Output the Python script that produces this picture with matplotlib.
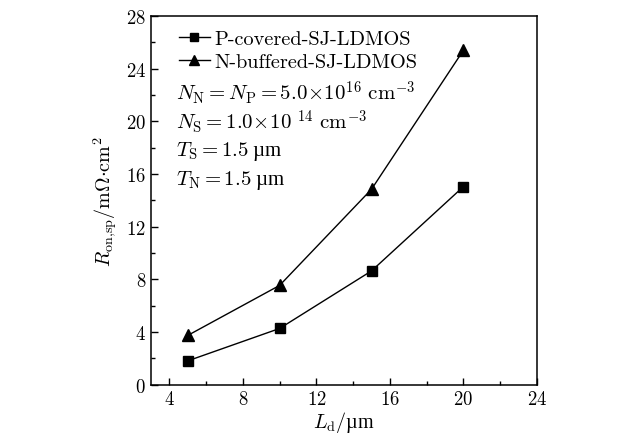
import matplotlib
matplotlib.use('Agg')
import matplotlib.pyplot as plt
from matplotlib.ticker import MultipleLocator

plt.rcParams['font.family'] = ['cmr10', 'DejaVu Serif']
plt.rcParams['mathtext.fontset'] = 'cm'
plt.rcParams['axes.formatter.use_mathtext'] = True

ld = [5, 10, 15, 20]
p_covered = [1.82, 4.28, 8.65, 15.05]
n_buffered = [3.75, 7.55, 14.85, 25.4]

fig = plt.figure(figsize=(6.37, 4.35), dpi=100)
ax = fig.add_axes([0.237, 0.113, 0.606, 0.848])

ax.plot(ld, p_covered, '-s', color='black', lw=1.0, ms=7, label='P-covered-SJ-LDMOS')
ax.plot(ld, n_buffered, '-^', color='black', lw=1.0, ms=8.5, label='N-buffered-SJ-LDMOS')

ax.set_xlim(3, 24)
ax.set_ylim(0, 28)
ax.xaxis.set_major_locator(MultipleLocator(4))
ax.xaxis.set_minor_locator(MultipleLocator(2))
ax.yaxis.set_major_locator(MultipleLocator(4))
ax.yaxis.set_minor_locator(MultipleLocator(2))
ax.tick_params(which='both', direction='in', labelsize=13.5, width=1)
ax.tick_params(which='major', length=5)
ax.tick_params(which='minor', length=3)
for s in ax.spines.values():
    s.set_linewidth(1.1)

# µ is not usable in cmr10, so plain text parts go in a serif font with an upright µ
mu_font = 'Liberation Serif'
ax.set_xlabel(r'$L_{\rm d}/$µm', fontsize=14.5, labelpad=1, fontfamily=mu_font)
ax.set_ylabel(r'$R_{\rm on{,}sp}/\mathrm{m}\Omega{\cdot}\mathrm{cm}^2$', fontsize=14.5, labelpad=4)

ax.legend(loc='upper left', frameon=False, fontsize=14.6, handlelength=1.5,
          handletextpad=0.25, borderaxespad=0.0, labelspacing=0.25,
          markerscale=0.9, bbox_to_anchor=(0.052, 0.985))

params = [
    r'$N_{\rm N}=N_{\rm P}=5.0\!\times\!10^{16}\ \mathrm{cm}^{-3}$',
    r'$N_{\rm S}=1.0\!\times\!10\ ^{14}\ \mathrm{cm}^{-3}$',
    r'$T_{\rm S}=1.5$ µm',
    r'$T_{\rm N}=1.5$ µm',
]
for i, t in enumerate(params):
    ax.text(0.066, 0.794 - i * 0.079, t, transform=ax.transAxes,
            fontsize=15, va='center', ha='left', fontfamily=mu_font)

fig.savefig('out.png', dpi=100)
